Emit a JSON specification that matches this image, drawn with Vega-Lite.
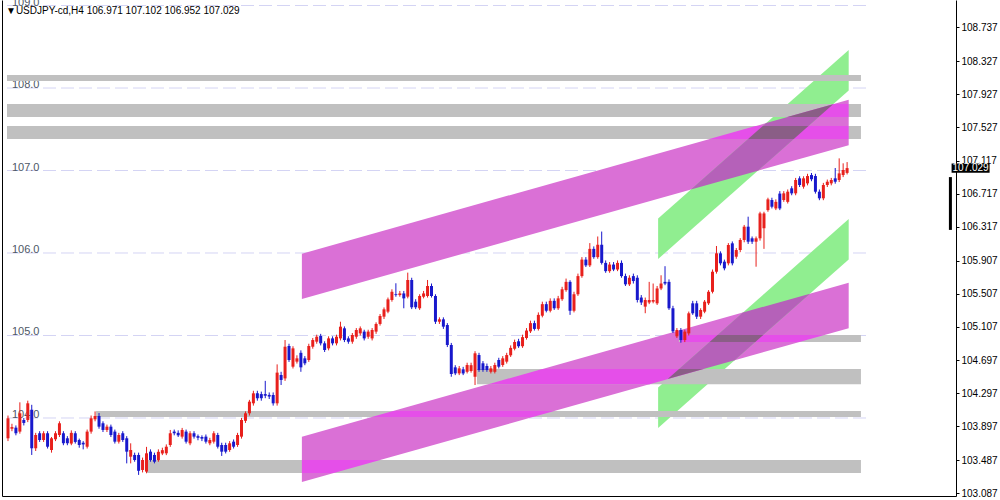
{
"$schema":"https://vega.github.io/schema/vega-lite/v6.json",
"width":954,"height":496,"autosize":"none",
"padding":{"left":2,"top":0,"right":44,"bottom":4},
"background":"white",
"config":{"view":{"stroke":null},
 "axisX":{"labels":false,"ticks":false,"grid":false,"domainColor":"black","domainWidth":1,"title":null},
 "axisY":{"grid":false,"title":null}},
"title":{"text":"▼USDJPY-cd,H4  106.971 107.102 106.952 107.029","anchor":"start","frame":"group","offset":-16,"dx":4,"dy":3,"fontSize":10,"font":"Liberation Sans","fontWeight":"normal","color":"black"},
"resolve":{"axis":{"y":"independent"}},
"datasets":{
"levels":[{"level":104},{"level":105},{"level":106},{"level":107},{"level":108},{"level":109}],
"bands":[
{"lo":108.085,"hi":108.158,"i0":-0.25,"i1":215.5},
{"lo":107.648,"hi":107.806,"i0":-0.25,"i1":215.5},
{"lo":107.382,"hi":107.539,"i0":-0.25,"i1":215.5},
{"lo":104.921,"hi":105.006,"i0":169.5,"i1":215.5},
{"lo":104.41,"hi":104.594,"i0":118.5,"i1":215.5},
{"lo":104.012,"hi":104.085,"i0":22.25,"i1":215.5},
{"lo":103.333,"hi":103.491,"i0":35,"i1":215.5}],
"areas":[
{"k":"mag","id":"UM","i":74.25,"lo":105.442,"hi":105.992},{"k":"mag","id":"UM","i":212.4,"lo":107.307,"hi":107.857},
{"k":"mag","id":"LM","i":74.25,"lo":103.224,"hi":103.774},{"k":"mag","id":"LM","i":212.4,"lo":105.089,"hi":105.639},
{"k":"grn","id":"UG","i":164.25,"lo":105.927,"hi":106.417},{"k":"grn","id":"UG","i":212.4,"lo":107.971,"hi":108.461},
{"k":"grn","id":"LG","i":164.25,"lo":103.879,"hi":104.369},{"k":"grn","id":"LG","i":212.4,"lo":105.922,"hi":106.412},
{"k":"pur","id":"P1","i":172.54,"lo":106.769,"hi":106.769},{"k":"pur","id":"P1","i":189.47,"lo":106.997,"hi":107.487},{"k":"pur","id":"P1","i":191.55,"lo":107.086,"hi":107.576},{"k":"pur","id":"P1","i":208.48,"lo":107.804,"hi":107.804},
{"k":"pur","id":"P2","i":166.67,"lo":104.472,"hi":104.472},{"k":"pur","id":"P2","i":183.6,"lo":104.7,"hi":105.19},{"k":"pur","id":"P2","i":185.67,"lo":104.788,"hi":105.278},{"k":"pur","id":"P2","i":202.61,"lo":105.507,"hi":105.507},
{"k":"brt","id":"B1","i":196.92,"lo":107.648,"hi":107.648},{"k":"brt","id":"B1","i":208.62,"lo":107.648,"hi":107.806},{"k":"brt","id":"B1","i":212.4,"lo":107.648,"hi":107.806},
{"k":"brt","id":"B2","i":177.21,"lo":107.382,"hi":107.382},{"k":"brt","id":"B2","i":188.84,"lo":107.382,"hi":107.539},{"k":"brt","id":"B2","i":212.4,"lo":107.382,"hi":107.539},
{"k":"brt","id":"B3","i":170,"lo":104.921,"hi":105.006},{"k":"brt","id":"B3","i":199.96,"lo":104.921,"hi":105.006},{"k":"brt","id":"B3","i":206.25,"lo":105.006,"hi":105.006},
{"k":"brt","id":"B4","i":121.36,"lo":104.41,"hi":104.41},{"k":"brt","id":"B4","i":134.99,"lo":104.41,"hi":104.594},{"k":"brt","id":"B4","i":162.1,"lo":104.41,"hi":104.594},{"k":"brt","id":"B4","i":175.73,"lo":104.594,"hi":104.594},
{"k":"brt","id":"B5","i":91.88,"lo":104.012,"hi":104.012},{"k":"brt","id":"B5","i":97.29,"lo":104.012,"hi":104.085},{"k":"brt","id":"B5","i":132.62,"lo":104.012,"hi":104.085},{"k":"brt","id":"B5","i":138.03,"lo":104.085,"hi":104.085},
{"k":"brt","id":"B6","i":74.25,"lo":103.333,"hi":103.491},{"k":"brt","id":"B6","i":82.32,"lo":103.333,"hi":103.491},{"k":"brt","id":"B6","i":94.03,"lo":103.491,"hi":103.491},
{"k":"drk","id":"D1","i":186.99,"lo":107.382,"hi":107.382},{"k":"drk","id":"D1","i":189.47,"lo":107.382,"hi":107.487},{"k":"drk","id":"D1","i":190.7,"lo":107.382,"hi":107.539},{"k":"drk","id":"D1","i":198.54,"lo":107.382,"hi":107.539},{"k":"drk","id":"D1","i":202.24,"lo":107.539,"hi":107.539},
{"k":"drk","id":"D2","i":196.88,"lo":107.648,"hi":107.648},{"k":"drk","id":"D2","i":204.81,"lo":107.648,"hi":107.755},{"k":"drk","id":"D2","i":208.48,"lo":107.804,"hi":107.804},
{"k":"drk","id":"D3","i":177.25,"lo":104.921,"hi":104.921},{"k":"drk","id":"D3","i":179.25,"lo":104.921,"hi":105.006},{"k":"drk","id":"D3","i":188.81,"lo":104.921,"hi":105.006},{"k":"drk","id":"D3","i":190.81,"lo":105.006,"hi":105.006},
{"k":"drk","id":"D4","i":166.67,"lo":104.472,"hi":104.472},{"k":"drk","id":"D4","i":169.54,"lo":104.511,"hi":104.594},{"k":"drk","id":"D4","i":175.71,"lo":104.594,"hi":104.594}],
"candles":[
{"i":0,"o":103.754,"c":103.996,"h":104.03,"l":103.72},
{"i":1,"o":103.87,"c":103.89,"h":103.93,"l":103.84},
{"i":2,"o":103.883,"c":103.815,"h":103.91,"l":103.79},
{"i":3,"o":103.835,"c":104.057,"h":104.19,"l":103.81},
{"i":4,"o":103.976,"c":103.94,"h":104.0,"l":103.91},
{"i":5,"o":103.976,"c":104.178,"h":104.21,"l":103.95},
{"i":6,"o":104.1,"c":103.633,"h":104.16,"l":103.552},
{"i":7,"o":103.633,"c":103.794,"h":103.82,"l":103.6},
{"i":8,"o":103.815,"c":103.733,"h":103.84,"l":103.71},
{"i":9,"o":103.733,"c":103.815,"h":103.84,"l":103.71},
{"i":10,"o":103.815,"c":103.652,"h":103.84,"l":103.63},
{"i":11,"o":103.612,"c":103.754,"h":103.77,"l":103.58},
{"i":12,"o":103.742,"c":103.815,"h":103.84,"l":103.72},
{"i":13,"o":103.794,"c":103.936,"h":103.96,"l":103.77},
{"i":14,"o":103.815,"c":103.694,"h":103.84,"l":103.67},
{"i":15,"o":103.754,"c":103.694,"h":103.78,"l":103.67},
{"i":16,"o":103.69,"c":103.82,"h":103.85,"l":103.67},
{"i":17,"o":103.815,"c":103.71,"h":103.84,"l":103.69},
{"i":18,"o":103.733,"c":103.673,"h":103.75,"l":103.64},
{"i":19,"o":103.7,"c":103.68,"h":103.72,"l":103.62},
{"i":20,"o":103.652,"c":103.835,"h":103.86,"l":103.63},
{"i":21,"o":103.835,"c":103.996,"h":104.03,"l":103.81},
{"i":22,"o":103.984,"c":104.024,"h":104.08,"l":103.96},
{"i":23,"o":104.024,"c":103.895,"h":104.06,"l":103.87},
{"i":24,"o":103.936,"c":103.855,"h":103.96,"l":103.83},
{"i":25,"o":103.855,"c":103.895,"h":103.92,"l":103.83},
{"i":26,"o":103.895,"c":103.794,"h":103.92,"l":103.77},
{"i":27,"o":103.835,"c":103.713,"h":103.86,"l":103.69},
{"i":28,"o":103.713,"c":103.794,"h":103.82,"l":103.69},
{"i":29,"o":103.815,"c":103.733,"h":103.84,"l":103.71},
{"i":30,"o":103.754,"c":103.592,"h":103.78,"l":103.45},
{"i":31,"o":103.531,"c":103.612,"h":103.693,"l":103.45},
{"i":32,"o":103.552,"c":103.491,"h":103.58,"l":103.47},
{"i":33,"o":103.552,"c":103.36,"h":103.58,"l":103.31},
{"i":34,"o":103.37,"c":103.491,"h":103.52,"l":103.34},
{"i":35,"o":103.35,"c":103.572,"h":103.65,"l":103.33},
{"i":36,"o":103.592,"c":103.491,"h":103.62,"l":103.47},
{"i":37,"o":103.552,"c":103.47,"h":103.58,"l":103.45},
{"i":38,"o":103.49,"c":103.59,"h":103.62,"l":103.47},
{"i":39,"o":103.57,"c":103.61,"h":103.64,"l":103.55},
{"i":40,"o":103.572,"c":103.652,"h":103.68,"l":103.55},
{"i":41,"o":103.673,"c":103.815,"h":103.855,"l":103.65},
{"i":42,"o":103.835,"c":103.815,"h":103.86,"l":103.79},
{"i":43,"o":103.82,"c":103.79,"h":103.85,"l":103.77},
{"i":44,"o":103.774,"c":103.855,"h":103.88,"l":103.75},
{"i":45,"o":103.835,"c":103.713,"h":103.86,"l":103.69},
{"i":46,"o":103.693,"c":103.815,"h":103.84,"l":103.67},
{"i":47,"o":103.815,"c":103.774,"h":103.84,"l":103.75},
{"i":48,"o":103.78,"c":103.76,"h":103.8,"l":103.73},
{"i":49,"o":103.77,"c":103.75,"h":103.79,"l":103.72},
{"i":50,"o":103.774,"c":103.713,"h":103.8,"l":103.69},
{"i":51,"o":103.693,"c":103.733,"h":103.76,"l":103.67},
{"i":52,"o":103.713,"c":103.815,"h":103.84,"l":103.69},
{"i":53,"o":103.794,"c":103.652,"h":103.82,"l":103.63},
{"i":54,"o":103.673,"c":103.592,"h":103.7,"l":103.54},
{"i":55,"o":103.673,"c":103.592,"h":103.7,"l":103.57},
{"i":56,"o":103.612,"c":103.693,"h":103.72,"l":103.59},
{"i":57,"o":103.713,"c":103.652,"h":103.74,"l":103.63},
{"i":58,"o":103.673,"c":103.794,"h":103.82,"l":103.65},
{"i":59,"o":103.774,"c":103.976,"h":104.0,"l":103.75},
{"i":60,"o":103.966,"c":104.057,"h":104.08,"l":103.94},
{"i":61,"o":104.057,"c":104.198,"h":104.22,"l":104.03},
{"i":62,"o":104.178,"c":104.299,"h":104.33,"l":104.15},
{"i":63,"o":104.299,"c":104.239,"h":104.33,"l":104.21},
{"i":64,"o":104.29,"c":104.24,"h":104.32,"l":104.21},
{"i":65,"o":104.29,"c":104.27,"h":104.45,"l":104.24},
{"i":66,"o":104.28,"c":104.26,"h":104.31,"l":104.23},
{"i":67,"o":104.279,"c":104.178,"h":104.31,"l":104.15},
{"i":68,"o":104.178,"c":104.55,"h":104.65,"l":104.15},
{"i":69,"o":104.521,"c":104.461,"h":104.56,"l":104.4},
{"i":70,"o":104.48,"c":104.864,"h":104.945,"l":104.45},
{"i":71,"o":104.873,"c":104.703,"h":104.9,"l":104.68},
{"i":72,"o":104.622,"c":104.844,"h":104.87,"l":104.6},
{"i":73,"o":104.683,"c":104.723,"h":104.76,"l":104.66},
{"i":74,"o":104.79,"c":104.614,"h":104.82,"l":104.56},
{"i":75,"o":104.723,"c":104.663,"h":104.75,"l":104.64},
{"i":76,"o":104.703,"c":104.873,"h":104.9,"l":104.68},
{"i":77,"o":104.864,"c":104.945,"h":104.97,"l":104.84},
{"i":78,"o":104.925,"c":104.985,"h":105.01,"l":104.9},
{"i":79,"o":104.994,"c":104.905,"h":105.02,"l":104.88},
{"i":80,"o":104.905,"c":104.824,"h":104.93,"l":104.8},
{"i":81,"o":104.844,"c":104.965,"h":104.99,"l":104.82},
{"i":82,"o":104.965,"c":104.905,"h":104.99,"l":104.88},
{"i":83,"o":104.905,"c":104.985,"h":105.01,"l":104.88},
{"i":84,"o":104.965,"c":105.107,"h":105.167,"l":104.94},
{"i":85,"o":105.087,"c":104.945,"h":105.11,"l":104.92},
{"i":86,"o":104.965,"c":104.925,"h":104.99,"l":104.9},
{"i":87,"o":104.925,"c":105.006,"h":105.03,"l":104.9},
{"i":88,"o":104.985,"c":105.067,"h":105.09,"l":104.96},
{"i":89,"o":105.026,"c":105.087,"h":105.11,"l":105.0},
{"i":90,"o":105.047,"c":104.965,"h":105.07,"l":104.94},
{"i":91,"o":104.985,"c":105.047,"h":105.07,"l":104.96},
{"i":92,"o":104.965,"c":105.067,"h":105.09,"l":104.94},
{"i":93,"o":105.047,"c":105.14,"h":105.16,"l":105.02},
{"i":94,"o":105.14,"c":105.236,"h":105.26,"l":105.12},
{"i":95,"o":105.228,"c":105.317,"h":105.34,"l":105.2},
{"i":96,"o":105.289,"c":105.438,"h":105.46,"l":105.27},
{"i":97,"o":105.43,"c":105.53,"h":105.56,"l":105.41},
{"i":98,"o":105.5,"c":105.49,"h":105.633,"l":105.47},
{"i":99,"o":105.49,"c":105.51,"h":105.54,"l":105.47},
{"i":100,"o":105.51,"c":105.45,"h":105.54,"l":105.33},
{"i":101,"o":105.471,"c":105.673,"h":105.762,"l":105.45},
{"i":102,"o":105.673,"c":105.342,"h":105.7,"l":105.32},
{"i":103,"o":105.41,"c":105.342,"h":105.44,"l":105.32},
{"i":104,"o":105.33,"c":105.479,"h":105.5,"l":105.31},
{"i":105,"o":105.47,"c":105.51,"h":105.54,"l":105.45},
{"i":106,"o":105.479,"c":105.6,"h":105.673,"l":105.46},
{"i":107,"o":105.6,"c":105.479,"h":105.63,"l":105.46},
{"i":108,"o":105.479,"c":105.167,"h":105.5,"l":105.14},
{"i":109,"o":105.167,"c":105.196,"h":105.22,"l":105.14},
{"i":110,"o":105.196,"c":105.107,"h":105.22,"l":105.08},
{"i":111,"o":105.127,"c":104.885,"h":105.15,"l":104.86},
{"i":112,"o":104.885,"c":104.533,"h":104.91,"l":104.5},
{"i":113,"o":104.614,"c":104.541,"h":104.64,"l":104.52},
{"i":114,"o":104.541,"c":104.602,"h":104.63,"l":104.52},
{"i":115,"o":104.59,"c":104.54,"h":104.62,"l":104.52},
{"i":116,"o":104.56,"c":104.642,"h":104.67,"l":104.54},
{"i":117,"o":104.57,"c":104.64,"h":104.67,"l":104.55},
{"i":118,"o":104.5,"c":104.784,"h":104.81,"l":104.4},
{"i":119,"o":104.763,"c":104.582,"h":104.79,"l":104.56},
{"i":120,"o":104.663,"c":104.582,"h":104.69,"l":104.56},
{"i":121,"o":104.63,"c":104.582,"h":104.66,"l":104.56},
{"i":122,"o":104.56,"c":104.602,"h":104.63,"l":104.54},
{"i":123,"o":104.56,"c":104.642,"h":104.67,"l":104.54},
{"i":124,"o":104.703,"c":104.622,"h":104.73,"l":104.6},
{"i":125,"o":104.642,"c":104.723,"h":104.75,"l":104.62},
{"i":126,"o":104.683,"c":104.763,"h":104.79,"l":104.66},
{"i":127,"o":104.76,"c":104.85,"h":104.88,"l":104.74},
{"i":128,"o":104.84,"c":104.92,"h":104.95,"l":104.82},
{"i":129,"o":104.93,"c":104.87,"h":104.96,"l":104.85},
{"i":130,"o":104.87,"c":104.98,"h":105.01,"l":104.85},
{"i":131,"o":104.97,"c":105.06,"h":105.09,"l":104.95},
{"i":132,"o":105.05,"c":105.15,"h":105.18,"l":105.03},
{"i":133,"o":105.15,"c":105.08,"h":105.18,"l":105.06},
{"i":134,"o":105.08,"c":105.25,"h":105.28,"l":105.06},
{"i":135,"o":105.24,"c":105.38,"h":105.41,"l":105.22},
{"i":136,"o":105.38,"c":105.3,"h":105.41,"l":105.28},
{"i":137,"o":105.3,"c":105.42,"h":105.45,"l":105.28},
{"i":138,"o":105.42,"c":105.33,"h":105.45,"l":105.31},
{"i":139,"o":105.33,"c":105.45,"h":105.48,"l":105.31},
{"i":140,"o":105.44,"c":105.56,"h":105.59,"l":105.42},
{"i":141,"o":105.55,"c":105.65,"h":105.69,"l":105.53},
{"i":142,"o":105.65,"c":105.3,"h":105.67,"l":105.25},
{"i":143,"o":105.3,"c":105.5,"h":105.53,"l":105.28},
{"i":144,"o":105.5,"c":105.72,"h":105.75,"l":105.48},
{"i":145,"o":105.72,"c":105.92,"h":105.95,"l":105.7},
{"i":146,"o":105.92,"c":105.85,"h":105.95,"l":105.83},
{"i":147,"o":105.85,"c":106.05,"h":106.12,"l":105.83},
{"i":148,"o":106.05,"c":105.95,"h":106.08,"l":105.93},
{"i":149,"o":105.95,"c":106.1,"h":106.2,"l":105.93},
{"i":150,"o":106.1,"c":105.88,"h":106.26,"l":105.86},
{"i":151,"o":105.88,"c":105.78,"h":105.91,"l":105.76},
{"i":152,"o":105.78,"c":105.86,"h":105.89,"l":105.76},
{"i":153,"o":105.86,"c":105.8,"h":105.89,"l":105.78},
{"i":154,"o":105.8,"c":105.88,"h":105.91,"l":105.78},
{"i":155,"o":105.88,"c":105.72,"h":105.91,"l":105.7},
{"i":156,"o":105.72,"c":105.62,"h":105.75,"l":105.6},
{"i":157,"o":105.62,"c":105.7,"h":105.73,"l":105.6},
{"i":158,"o":105.72,"c":105.66,"h":105.75,"l":105.63},
{"i":159,"o":105.7,"c":105.43,"h":105.73,"l":105.4},
{"i":160,"o":105.46,"c":105.4,"h":105.49,"l":105.37},
{"i":161,"o":105.35,"c":105.43,"h":105.46,"l":105.27},
{"i":162,"o":105.4,"c":105.43,"h":105.65,"l":105.38},
{"i":163,"o":105.41,"c":105.43,"h":105.63,"l":105.39},
{"i":164,"o":105.39,"c":105.57,"h":105.6,"l":105.37},
{"i":165,"o":105.57,"c":105.63,"h":105.73,"l":105.55},
{"i":166,"o":105.65,"c":105.63,"h":105.84,"l":105.61},
{"i":167,"o":105.65,"c":105.33,"h":105.68,"l":105.31},
{"i":168,"o":105.33,"c":105.05,"h":105.36,"l":105.03},
{"i":169,"o":104.99,"c":105.067,"h":105.09,"l":104.97},
{"i":170,"o":105.067,"c":104.945,"h":105.09,"l":104.913},
{"i":171,"o":104.945,"c":105.047,"h":105.07,"l":104.92},
{"i":172,"o":105.026,"c":105.269,"h":105.29,"l":105.0},
{"i":173,"o":105.39,"c":105.269,"h":105.42,"l":105.25},
{"i":174,"o":105.39,"c":105.228,"h":105.42,"l":105.2},
{"i":175,"o":105.228,"c":105.309,"h":105.33,"l":105.2},
{"i":176,"o":105.289,"c":105.41,"h":105.43,"l":105.27},
{"i":177,"o":105.39,"c":105.53,"h":105.55,"l":105.37},
{"i":178,"o":105.53,"c":105.773,"h":105.8,"l":105.51},
{"i":179,"o":105.773,"c":105.996,"h":106.085,"l":105.75},
{"i":180,"o":105.996,"c":105.875,"h":106.02,"l":105.85},
{"i":181,"o":105.895,"c":105.814,"h":105.92,"l":105.79},
{"i":182,"o":105.875,"c":106.097,"h":106.12,"l":105.85},
{"i":183,"o":106.117,"c":105.875,"h":106.14,"l":105.85},
{"i":184,"o":105.955,"c":106.036,"h":106.06,"l":105.93},
{"i":185,"o":106.036,"c":106.158,"h":106.18,"l":106.01},
{"i":186,"o":106.158,"c":106.319,"h":106.34,"l":106.13},
{"i":187,"o":106.319,"c":106.137,"h":106.44,"l":106.11},
{"i":188,"o":106.178,"c":106.137,"h":106.2,"l":106.11},
{"i":189,"o":106.137,"c":106.178,"h":106.2,"l":105.834},
{"i":190,"o":106.178,"c":106.48,"h":106.5,"l":106.15},
{"i":191,"o":106.3,"c":106.48,"h":106.5,"l":106.05},
{"i":192,"o":106.52,"c":106.65,"h":106.67,"l":106.5},
{"i":193,"o":106.642,"c":106.561,"h":106.67,"l":106.54},
{"i":194,"o":106.54,"c":106.62,"h":106.65,"l":106.52},
{"i":195,"o":106.72,"c":106.54,"h":106.75,"l":106.52},
{"i":196,"o":106.642,"c":106.723,"h":106.75,"l":106.62},
{"i":197,"o":106.62,"c":106.743,"h":106.77,"l":106.6},
{"i":198,"o":106.784,"c":106.723,"h":106.81,"l":106.7},
{"i":199,"o":106.723,"c":106.885,"h":106.91,"l":106.7},
{"i":200,"o":106.905,"c":106.824,"h":106.93,"l":106.8},
{"i":201,"o":106.804,"c":106.905,"h":106.93,"l":106.78},
{"i":202,"o":106.844,"c":106.933,"h":106.96,"l":106.82},
{"i":203,"o":106.945,"c":106.894,"h":106.97,"l":106.87},
{"i":204,"o":106.933,"c":106.743,"h":106.96,"l":106.72},
{"i":205,"o":106.743,"c":106.663,"h":106.77,"l":106.64},
{"i":206,"o":106.663,"c":106.824,"h":106.85,"l":106.64},
{"i":207,"o":106.824,"c":106.864,"h":106.89,"l":106.8},
{"i":208,"o":106.844,"c":106.885,"h":106.91,"l":106.82},
{"i":209,"o":106.905,"c":106.864,"h":107.03,"l":106.84},
{"i":210,"o":106.885,"c":106.965,"h":107.147,"l":106.86},
{"i":211,"o":106.945,"c":107.006,"h":107.087,"l":106.92},
{"i":212,"o":106.971,"c":107.029,"h":107.102,"l":106.952}]
},
"layer":[
{"data":{"name":"levels"},"mark":{"type":"rule","strokeDash":[13,5],"color":"#D4D4F4","strokeWidth":1},
 "encoding":{"x":{"datum":-0.25,"type":"quantitative","scale":{"domain":[-0.25,238.25],"zero":false,"nice":false}},"x2":{"datum":217.5},
  "y":{"field":"level","type":"quantitative","scale":{"domain":[103.0545,109.0667],"zero":false,"nice":false},"axis":{"orient":"left","labels":false,"ticks":false,"domainColor":"black"}}}},
{"data":{"name":"levels"},"mark":{"type":"text","align":"left","baseline":"alphabetic","font":"'Liberation Sans Narrow', 'Liberation Sans'","fontSize":11,"color":"#4E5766"},
 "encoding":{"x":{"datum":1,"type":"quantitative","scale":{"domain":[-0.25,238.25],"zero":false,"nice":false}},
  "y":{"field":"level","type":"quantitative","scale":{"domain":[103.0545,109.0667],"zero":false,"nice":false},"axis":null},
  "text":{"field":"level","format":".1f"}}},
{"data":{"name":"areas"},"transform":[{"filter":"datum.k==='mag'"}],"mark":{"type":"area","color":"#DA70D6","opacity":1},
 "encoding":{"x":{"field":"i","type":"quantitative","scale":{"domain":[-0.25,238.25],"zero":false,"nice":false}},
  "y":{"field":"lo","type":"quantitative","stack":null,"scale":{"domain":[103.0545,109.0667],"zero":false,"nice":false},"axis":null},"y2":{"field":"hi"},"detail":{"field":"id"}}},
{"data":{"name":"areas"},"transform":[{"filter":"datum.k==='grn'"}],"mark":{"type":"area","color":"#90EE90","opacity":1},
 "encoding":{"x":{"field":"i","type":"quantitative","scale":{"domain":[-0.25,238.25],"zero":false,"nice":false}},
  "y":{"field":"lo","type":"quantitative","stack":null,"scale":{"domain":[103.0545,109.0667],"zero":false,"nice":false},"axis":null},"y2":{"field":"hi"},"detail":{"field":"id"}}},
{"data":{"name":"areas"},"transform":[{"filter":"datum.k==='pur'"}],"mark":{"type":"area","color":"#B561B9","opacity":1},
 "encoding":{"x":{"field":"i","type":"quantitative","scale":{"domain":[-0.25,238.25],"zero":false,"nice":false}},
  "y":{"field":"lo","type":"quantitative","stack":null,"scale":{"domain":[103.0545,109.0667],"zero":false,"nice":false},"axis":null},"y2":{"field":"hi"},"detail":{"field":"id"}}},
{"data":{"name":"bands"},"mark":{"type":"rect","color":"#C0C0C0"},
 "encoding":{"x":{"field":"i0","type":"quantitative","scale":{"domain":[-0.25,238.25],"zero":false,"nice":false}},"x2":{"field":"i1"},
  "y":{"field":"lo","type":"quantitative","scale":{"domain":[103.0545,109.0667],"zero":false,"nice":false},"axis":null},"y2":{"field":"hi"}}},
{"data":{"name":"areas"},"transform":[{"filter":"datum.k==='brt'"}],"mark":{"type":"area","color":"#E54FE9","opacity":1},
 "encoding":{"x":{"field":"i","type":"quantitative","scale":{"domain":[-0.25,238.25],"zero":false,"nice":false}},
  "y":{"field":"lo","type":"quantitative","stack":null,"scale":{"domain":[103.0545,109.0667],"zero":false,"nice":false},"axis":null},"y2":{"field":"hi"},"detail":{"field":"id"}}},
{"data":{"name":"areas"},"transform":[{"filter":"datum.k==='drk'"}],"mark":{"type":"area","color":"#8A5E86","opacity":1},
 "encoding":{"x":{"field":"i","type":"quantitative","scale":{"domain":[-0.25,238.25],"zero":false,"nice":false}},
  "y":{"field":"lo","type":"quantitative","stack":null,"scale":{"domain":[103.0545,109.0667],"zero":false,"nice":false},"axis":null},"y2":{"field":"hi"},"detail":{"field":"id"}}},
{"data":{"name":"candles"},"mark":{"type":"rule","strokeWidth":1},
 "encoding":{"x":{"field":"i","type":"quantitative","scale":{"domain":[-0.25,238.25],"zero":false,"nice":false}},
  "y":{"field":"l","type":"quantitative","scale":{"domain":[103.0545,109.0667],"zero":false,"nice":false},"axis":null},"y2":{"field":"h"},
  "color":{"condition":{"test":"datum.c >= datum.o","value":"#E8201C"},"value":"#1818CC"}}},
{"data":{"name":"candles"},"mark":{"type":"bar","size":3},
 "encoding":{"x":{"field":"i","type":"quantitative","scale":{"domain":[-0.25,238.25],"zero":false,"nice":false}},
  "y":{"field":"o","type":"quantitative","scale":{"domain":[103.0545,109.0667],"zero":false,"nice":false},
   "axis":{"orient":"right","values":[108.737,108.327,107.927,107.527,107.117,106.717,106.317,105.907,105.507,105.107,104.697,104.297,103.897,103.487,103.087],"format":".3f","tickSize":3,"tickColor":"black","domainColor":"black","labelColor":"black","labelFont":"Liberation Sans","labelFontSize":10,"labelPadding":2}},
  "y2":{"field":"c"},
  "color":{"condition":{"test":"datum.c >= datum.o","value":"#E8201C"},"value":"#1818CC"}}},
{"data":{"name":"candles"},"transform":[{"filter":"datum.i===212"}],"mark":{"type":"rect","color":"black","clip":false},
 "encoding":{"x":{"datum":238.4,"type":"quantitative","scale":{"domain":[-0.25,238.25],"zero":false,"nice":false}},"x2":{"datum":248},
  "y":{"datum":106.974,"type":"quantitative","scale":{"domain":[103.0545,109.0667],"zero":false,"nice":false},"axis":null},"y2":{"datum":107.084}}},
{"data":{"name":"candles"},"transform":[{"filter":"datum.i===212"}],"mark":{"type":"text","color":"white","font":"Liberation Sans","fontSize":10,"align":"center","baseline":"middle","clip":false},
 "encoding":{"x":{"datum":243.2,"type":"quantitative","scale":{"domain":[-0.25,238.25],"zero":false,"nice":false}},
  "y":{"field":"c","type":"quantitative","scale":{"domain":[103.0545,109.0667],"zero":false,"nice":false},"axis":null},"text":{"field":"c","format":".3f"}}},
{"data":{"name":"candles"},"transform":[{"filter":"datum.i===212"}],"mark":{"type":"rule","color":"black","strokeWidth":3,"clip":false},
 "encoding":{"x":{"datum":238.1,"type":"quantitative","scale":{"domain":[-0.25,238.25],"zero":false,"nice":false}},
  "y":{"datum":106.92,"type":"quantitative","scale":{"domain":[103.0545,109.0667],"zero":false,"nice":false},"axis":null},"y2":{"datum":106.28}}}
]
}
